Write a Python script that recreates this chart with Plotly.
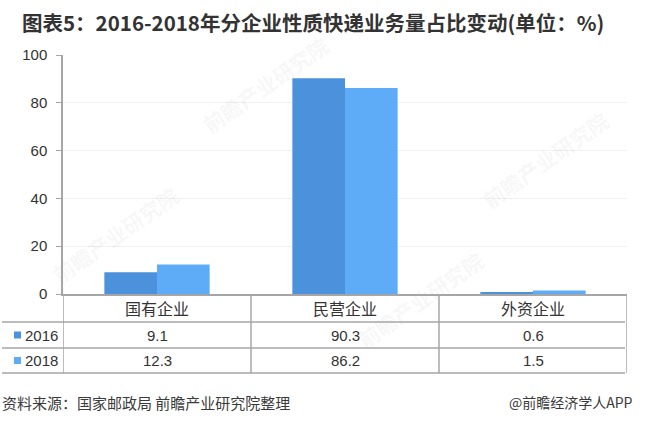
import plotly.graph_objects as go

# Share of express parcel volume by enterprise ownership type (%)
categories = ["国有企业", "民营企业", "外资企业"]
series_names = ["2016", "2018"]
values_2016 = [9.1, 90.3, 0.6]
values_2018 = [12.3, 86.2, 1.5]
series_colors = ["#4b91db", "#5eacf7"]
y_ticks = [0, 20, 40, 60, 80, 100]

title_text = "图表5：2016-2018年分企业性质快递业务量占比变动(单位：%)"
source_text = "资料来源：国家邮政局 前瞻产业研究院整理"
brand_text = "@前瞻经济学人APP"
watermark_text = "前瞻产业研究院"

W, H = 657, 431
L, R, T, B = 63, 30, 55, 137
plot_w = W - L - R
plot_h = H - T - B

CJK = "Noto Sans CJK SC"
LAT = "Liberation Sans, Arial, Noto Sans CJK SC"
GRID = "#a6a6a6"
TXT = "#333333"


def px_x(px):
    return (px - L) / plot_w


def px_y(py):
    return (H - B - py) / plot_h


fig = go.Figure()
for name, vals, col in zip(series_names, [values_2016, values_2018], series_colors):
    fig.add_trace(go.Bar(
        x=categories, y=vals, name=name,
        marker=dict(color=col, line=dict(width=0)),
        hoverinfo="x+y+name",
    ))

fig.update_layout(
    width=W, height=H,
    margin=dict(l=L, r=R, t=T, b=B),
    paper_bgcolor="white", plot_bgcolor="white",
    barmode="group", bargap=0.44, bargroupgap=0.0,
    showlegend=False,
    font=dict(family=CJK, color=TXT),
)
fig.update_xaxes(
    showticklabels=False, ticks="", showgrid=False,
    showline=True, linecolor=GRID, linewidth=1.5,
    range=[-0.5, 2.5], zeroline=False,
)
fig.update_yaxes(
    range=[0, 100], tickvals=y_ticks,
    tickfont=dict(family=LAT, size=15, color=TXT),
    showline=True, linecolor=GRID, linewidth=1.5,
    ticks="outside", ticklen=5, tickcolor=GRID, tickwidth=1.2,
    showgrid=True, gridcolor="#f0f0f0", gridwidth=1,
    zeroline=False, ticklabelstandoff=6,
)

shapes = []
annotations = []

# Data table under the plot: header row, then one row per series
row_edges_px = [H - B, 322, 348, 373]
row_edges = [px_y(v) for v in row_edges_px]
left_edge = px_x(2)
right_edge = px_x(625)

for ry in row_edges[1:]:
    shapes.append(dict(type="line", xref="paper", yref="paper",
                       x0=left_edge, x1=right_edge, y0=ry, y1=ry,
                       line=dict(color=GRID, width=1.5)))
for i in range(len(categories) + 1):
    shapes.append(dict(type="line", xref="x", yref="paper",
                       x0=i - 0.5, x1=i - 0.5, y0=row_edges[0], y1=row_edges[-1],
                       line=dict(color=GRID, width=1.5)))

for i, cat in enumerate(categories):
    annotations.append(dict(
        x=i, y=(row_edges[0] + row_edges[1]) / 2, xref="x", yref="paper",
        xanchor="center", yanchor="middle",
        text=cat, showarrow=False, font=dict(family=CJK, size=16, color=TXT),
    ))

for r, (name, vals, col) in enumerate(zip(series_names, [values_2016, values_2018], series_colors)):
    yc = (row_edges[r + 1] + row_edges[r + 2]) / 2
    for i, v in enumerate(vals):
        annotations.append(dict(
            x=i, y=yc, xref="x", yref="paper", text=f"{v:.1f}",
            xanchor="center", yanchor="middle",
            showarrow=False, font=dict(family=LAT, size=15, color=TXT),
        ))
    sq = 3.5
    ycp = H - B - yc * plot_h
    shapes.append(dict(type="rect", xref="paper", yref="paper",
                       x0=px_x(14), x1=px_x(14 + 2 * sq),
                       y0=px_y(ycp + sq), y1=px_y(ycp - sq),
                       fillcolor=col, line=dict(width=0)))
    annotations.append(dict(
        x=px_x(23), y=yc, xref="paper", yref="paper", text=name,
        xanchor="left", yanchor="middle",
        showarrow=False, font=dict(family=LAT, size=15, color=TXT),
    ))

# Title and footer
annotations.append(dict(
    x=px_x(20), y=px_y(22), xref="paper", yref="paper",
    xanchor="left", yanchor="middle",
    text=f"<b>{title_text}</b>", showarrow=False,
    font=dict(family=CJK, size=20.5, color="#333333"),
))
annotations.append(dict(
    x=px_x(0), y=px_y(402), xref="paper", yref="paper",
    xanchor="left", yanchor="middle",
    text=source_text, showarrow=False, font=dict(family=CJK, size=15, color="#3a3a3a"),
))
annotations.append(dict(
    x=px_x(635), y=px_y(402), xref="paper", yref="paper",
    xanchor="right", yanchor="middle",
    text=brand_text, showarrow=False, font=dict(family=CJK, size=14, color="#3a3a3a"),
))

# Faint brand watermarks
for wx, wy in [(265, 85), (545, 160), (115, 235), (420, 300)]:
    annotations.append(dict(
        x=px_x(wx), y=px_y(wy), xref="paper", yref="paper",
        xanchor="center", yanchor="middle",
        text=f"<b>{watermark_text}</b>", showarrow=False, textangle=-35,
        font=dict(family=CJK, size=21, color="rgba(170,170,170,0.10)"),
    ))

fig.update_layout(shapes=shapes, annotations=annotations)
fig.write_html("out.html")
